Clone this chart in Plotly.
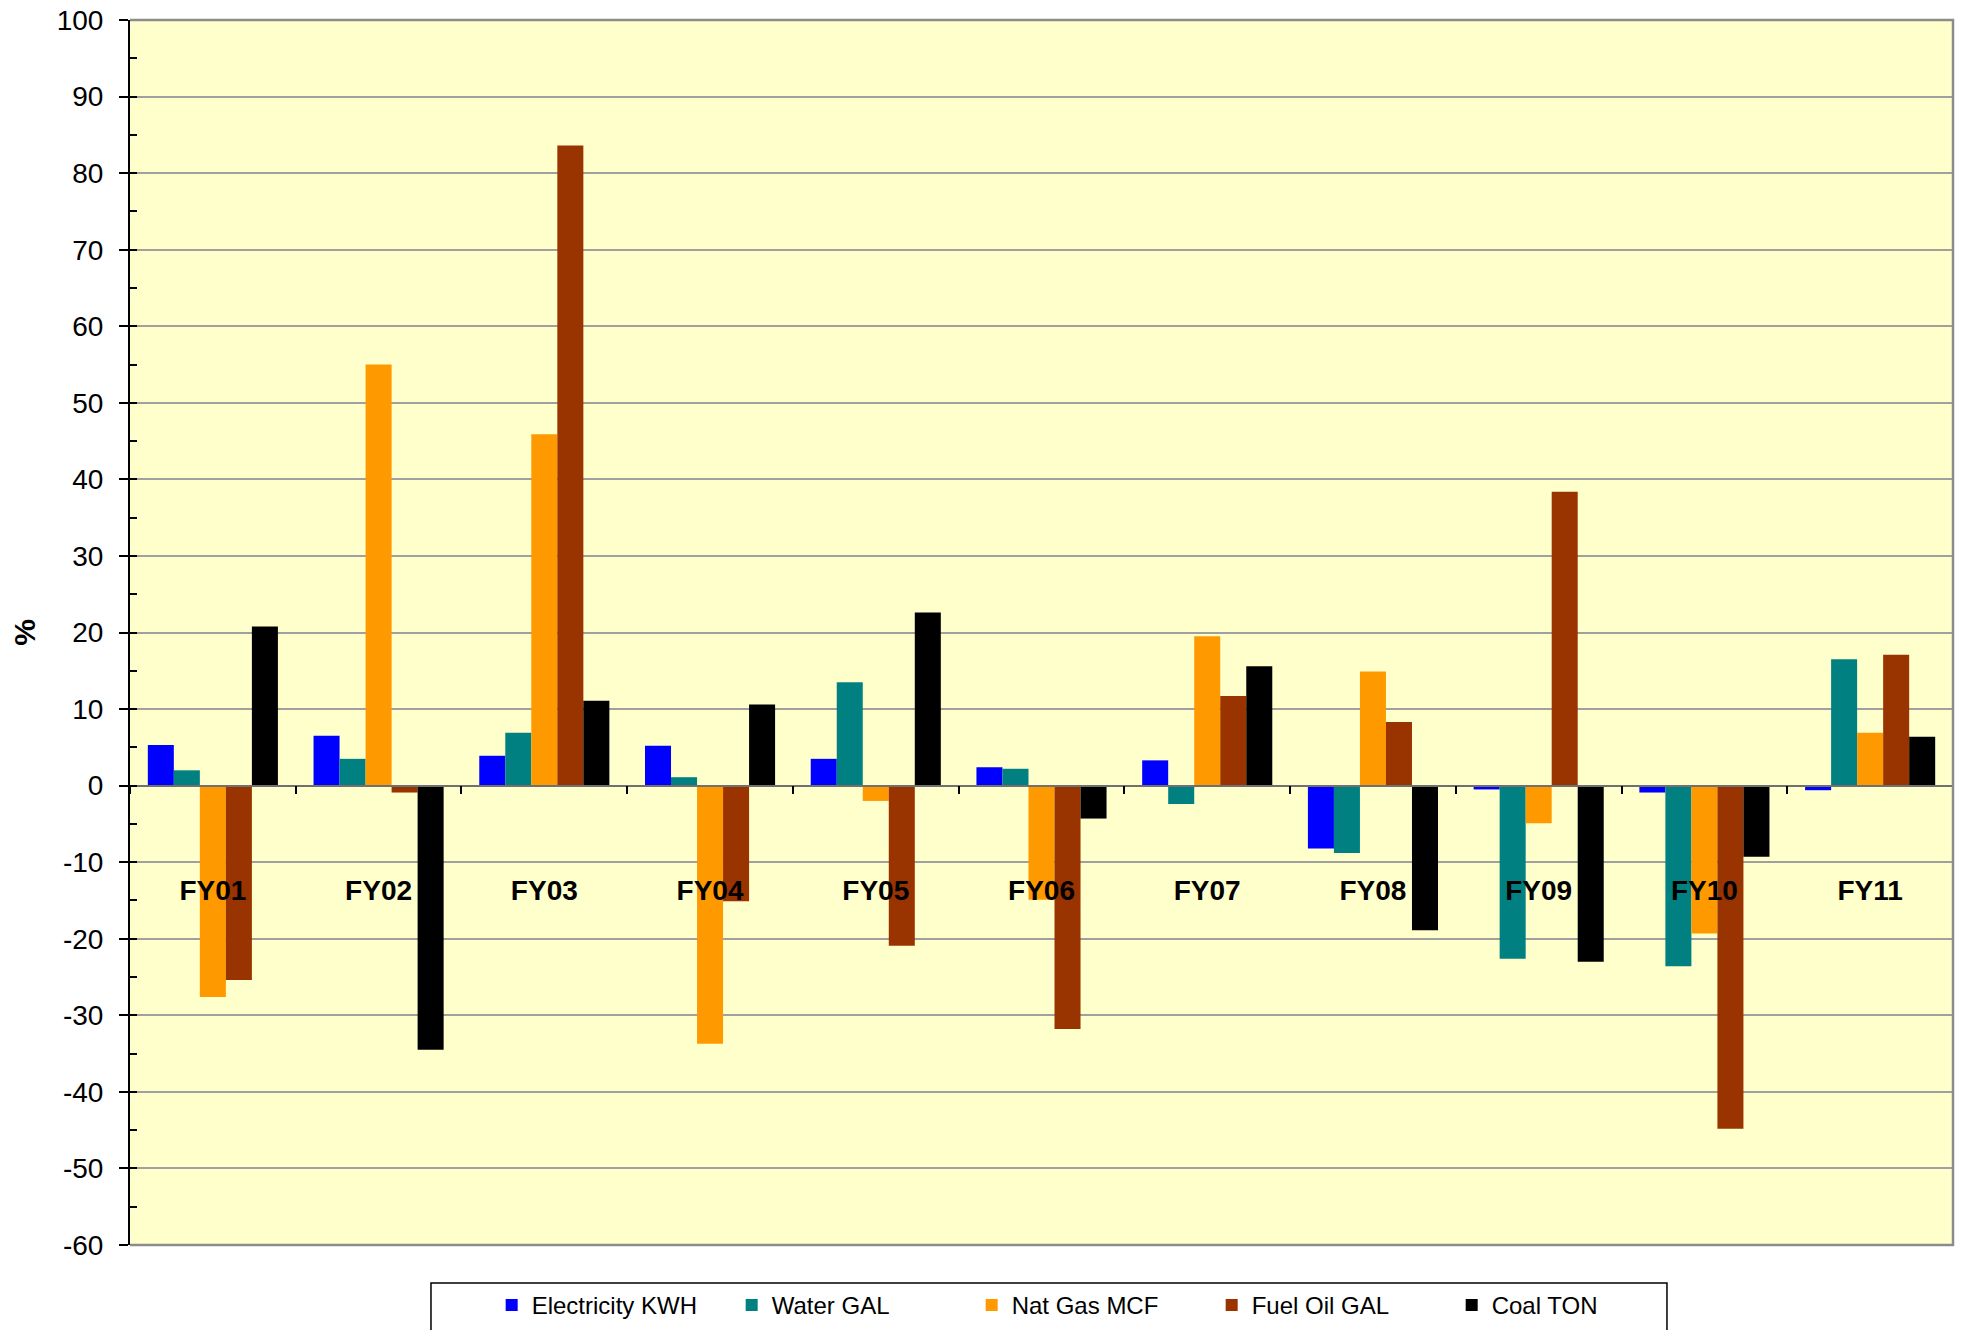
import plotly.graph_objects as go

categories = ["FY01", "FY02", "FY03", "FY04", "FY05", "FY06", "FY07", "FY08", "FY09", "FY10", "FY11"]
electricity_kwh = [5.3, 6.5, 3.9, 5.2, 3.5, 2.4, 3.3, -8.2, -0.5, -0.9, -0.6]
water_gal = [2.0, 3.5, 6.9, 1.1, 13.5, 2.2, -2.4, -8.8, -22.6, -23.6, 16.5]
nat_gas_mcf = [-27.6, 55.0, 45.9, -33.7, -2.0, -14.9, 19.5, 14.9, -4.9, -19.3, 6.9]
fuel_oil_gal = [-25.4, -0.9, 83.6, -15.1, -20.9, -31.8, 11.7, 8.3, 38.4, -44.8, 17.1]
coal_ton = [20.8, -34.5, 11.1, 10.6, 22.6, -4.3, 15.6, -18.9, -23.0, -9.3, 6.4]

series_names = ["Electricity KWH", "Water GAL", "Nat Gas MCF", "Fuel Oil GAL", "Coal TON"]
series_values = [electricity_kwh, water_gal, nat_gas_mcf, fuel_oil_gal, coal_ton]
series_colors = ["#0000FF", "#008080", "#FF9900", "#993300", "#000000"]

y_ticks = list(range(-60, 101, 10))

FONT = "Liberation Sans, Arial, sans-serif"

fig = go.Figure()
for name, vals, col in zip(series_names, series_values, series_colors):
    fig.add_trace(go.Bar(x=categories, y=vals, name=name,
                         marker=dict(color=col, line=dict(width=0))))

fig.update_layout(
    width=1961, height=1330,
    margin=dict(l=130, r=8, t=20, b=85, autoexpand=False),
    paper_bgcolor="white",
    plot_bgcolor="#FFFFCC",
    barmode="group",
    bargap=0.215,
    bargroupgap=0,
    font=dict(family=FONT, color="black"),
    showlegend=True,
    legend=dict(
        orientation="h",
        x=0.1984, xanchor="left",
        y=-0.031, yanchor="top",
        bgcolor="rgba(0,0,0,0)",
        borderwidth=0,
        font=dict(size=24, family=FONT),
        entrywidthmode="pixels",
        entrywidth=195,
        traceorder="normal",
    ),
    xaxis=dict(
        type="category",
        anchor="free",
        position=0.375,
        automargin=False,
        showline=True,
        linecolor="#707070",
        linewidth=1.5,
        ticks="outside",
        ticklen=8,
        tickwidth=1.5,
        tickcolor="black",
        tickson="boundaries",
        showgrid=False,
        zeroline=False,
        tickfont=dict(size=28, family=FONT, weight="bold"),
        ticklabelstandoff=80,
        fixedrange=True,
    ),
    yaxis=dict(
        range=[-60, 100],
        automargin=False,
        tickmode="array",
        tickvals=y_ticks,
        ticktext=[str(v) for v in y_ticks],
        showline=True,
        linecolor="black",
        linewidth=2,
        ticks="outside",
        ticklen=9,
        tickwidth=1.5,
        tickcolor="black",
        tickfont=dict(size=28, family=FONT),
        ticklabelstandoff=10,
        showgrid=True,
        gridcolor="#A0A0A0",
        gridwidth=1.5,
        zeroline=False,
        minor=dict(ticks="inside", ticklen=7, tickwidth=1.5, tickcolor="black",
                   dtick=5, tick0=0, showgrid=False),
        title=dict(text="<b>%</b>", font=dict(size=30, family=FONT), standoff=12),
        fixedrange=True,
    ),
    shapes=[
        dict(type="rect", xref="paper", yref="paper",
             x0=0.1651, x1=0.8431, y0=-0.031, y1=-0.09,
             fillcolor="white", line=dict(color="black", width=1.5), layer="above"),
        dict(type="path", xref="paper", yref="paper",
             path="M 0,1 L 1,1 L 1,0 L 0,0",
             line=dict(color="#8C8C8C", width=2.5), layer="above"),
    ],
)

fig.write_html(
    "out.html",
    config={"displayModeBar": False},
    post_script="document.body.style.margin='0';document.body.style.overflow='hidden';",
)
